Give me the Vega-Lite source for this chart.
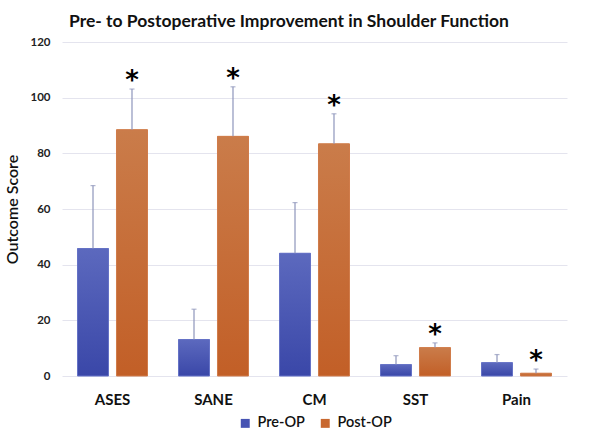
{
  "$schema": "https://vega.github.io/schema/vega-lite/v6.json",
  "autosize": "none",
  "width": 550,
  "height": 334,
  "padding": {"left": 62, "top": 42, "right": 0, "bottom": 57},
  "background": "white",
  "config": {
    "view": {"stroke": null},
    "font": "Lato"
  },
  "title": {
    "text": "Pre- to Postoperative Improvement in Shoulder Function",
    "anchor": "start",
    "frame": "group",
    "dx": 7,
    "offset": 6,
    "fontSize": 17.5,
    "fontWeight": "bold",
    "font": "Lato",
    "color": "#111111"
  },
  "data": {
    "values": [
      {"measure": "ASES", "time": "Pre-OP", "mean": 45.8, "upper": 68.4, "sig": ""},
      {"measure": "ASES", "time": "Post-OP", "mean": 88.5, "upper": 103.1, "sig": "*"},
      {"measure": "SANE", "time": "Pre-OP", "mean": 13.1, "upper": 24.0, "sig": ""},
      {"measure": "SANE", "time": "Post-OP", "mean": 86.1, "upper": 103.9, "sig": "*"},
      {"measure": "CM", "time": "Pre-OP", "mean": 44.1, "upper": 62.3, "sig": ""},
      {"measure": "CM", "time": "Post-OP", "mean": 83.4, "upper": 94.2, "sig": "*"},
      {"measure": "SST", "time": "Pre-OP", "mean": 4.1, "upper": 7.3, "sig": ""},
      {"measure": "SST", "time": "Post-OP", "mean": 10.2, "upper": 11.9, "sig": "*"},
      {"measure": "Pain", "time": "Pre-OP", "mean": 4.8, "upper": 7.7, "sig": ""},
      {"measure": "Pain", "time": "Post-OP", "mean": 1.0, "upper": 2.5, "sig": "*"}
    ]
  },
  "encoding": {
    "x": {
      "field": "measure",
      "type": "nominal",
      "sort": ["ASES", "SANE", "CM", "SST", "Pain"],
      "scale": {"range": [0, 505], "paddingInner": 0.307, "paddingOuter": 0.1535},
      "axis": {
        "title": null,
        "labelAngle": 0,
        "domain": false,
        "ticks": false,
        "labelFontSize": 15,
        "labelFontWeight": "bold",
        "labelColor": "#111111",
        "labelPadding": 16
      }
    },
    "xOffset": {
      "field": "time",
      "type": "nominal",
      "sort": ["Pre-OP", "Post-OP"],
      "scale": {"paddingInner": 0.205}
    }
  },
  "layer": [
    {
      "mark": {"type": "bar"},
      "encoding": {
        "y": {
          "field": "mean",
          "type": "quantitative",
          "scale": {"domain": [0, 120]},
          "axis": {
            "title": "Outcome Score",
            "titleFontSize": 16,
            "titleFontWeight": 600,
            "titleColor": "#111111",
            "titlePadding": 9,
            "values": [0, 20, 40, 60, 80, 100, 120],
            "domain": false,
            "ticks": false,
            "labelFontSize": 11.5,
            "labelFontWeight": "bold",
            "labelColor": "#222222",
            "labelPadding": 12,
            "gridColor": "#e4e4ee",
            "gridWidth": 1
          }
        },
        "color": {
          "field": "time",
          "type": "nominal",
          "sort": ["Pre-OP", "Post-OP"],
          "scale": {"domain": ["Pre-OP", "Post-OP"], "range": ["#4653b3", "#c8682f"]},
          "legend": {
            "title": null,
            "orient": "none",
            "direction": "horizontal",
            "legendX": 176,
            "legendY": 374,
            "symbolType": "square",
            "symbolSize": 80,
            "symbolStrokeWidth": 0,
            "labelFont": "Lato",
            "labelFontSize": 14.5,
            "labelColor": "#111111",
            "labelFontWeight": 600,
            "columnPadding": 13,
            "labelOffset": 5
          }
        }
      }
    },
    {
      "transform": [{"filter": "datum.time === 'Pre-OP'"}],
      "mark": {
        "type": "bar",
        "stroke": "#6572c6",
        "strokeWidth": 1,
        "color": {
          "gradient": "linear", "x1": 0, "y1": 0, "x2": 0, "y2": 1,
          "stops": [{"offset": 0, "color": "#5c69be"}, {"offset": 1, "color": "#3a47a8"}]
        }
      },
      "encoding": {"y": {"field": "mean", "type": "quantitative"}}
    },
    {
      "transform": [{"filter": "datum.time === 'Post-OP'"}],
      "mark": {
        "type": "bar",
        "stroke": "#d07c4a",
        "strokeWidth": 1,
        "color": {
          "gradient": "linear", "x1": 0, "y1": 0, "x2": 0, "y2": 1,
          "stops": [{"offset": 0, "color": "#ca7c4a"}, {"offset": 1, "color": "#c25f27"}]
        }
      },
      "encoding": {"y": {"field": "mean", "type": "quantitative"}}
    },
    {
      "mark": {"type": "rule", "color": "#8e95bb", "strokeWidth": 1.2},
      "encoding": {
        "y": {"field": "mean", "type": "quantitative"},
        "y2": {"field": "upper"}
      }
    },
    {
      "mark": {"type": "tick", "color": "#8e95bb", "thickness": 1.2, "size": 5, "orient": "horizontal"},
      "encoding": {
        "y": {"field": "upper", "type": "quantitative"}
      }
    },
    {
      "mark": {"type": "text", "fontSize": 26, "fontWeight": "bold", "font": "DejaVu Sans", "color": "#000000", "baseline": "middle", "dy": -8},
      "encoding": {
        "y": {"field": "upper", "type": "quantitative"},
        "text": {"field": "sig"}
      }
    }
  ]
}
